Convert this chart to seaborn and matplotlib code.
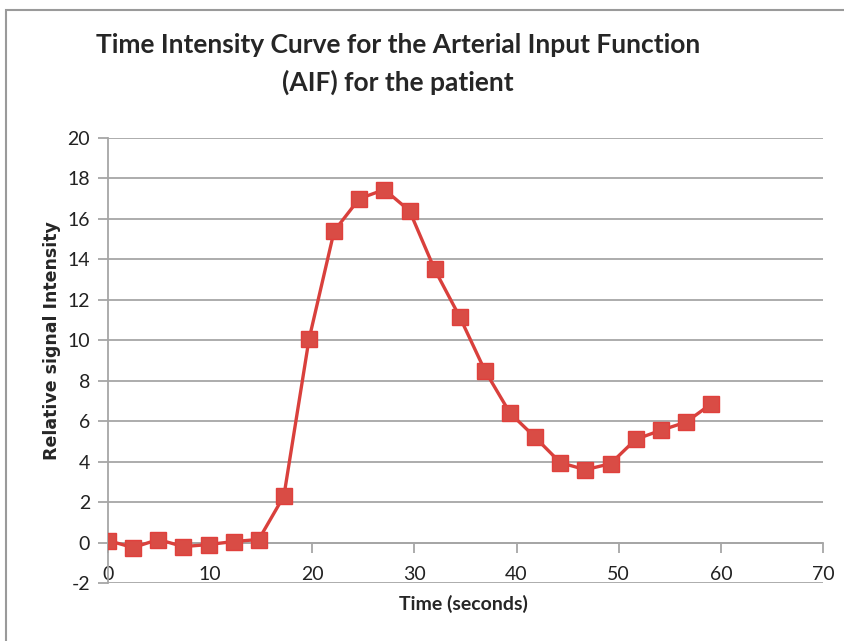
import matplotlib
matplotlib.use("Agg")
import matplotlib.pyplot as plt
import seaborn as sns
import pandas as pd
from matplotlib.patches import Rectangle

time_s = [0.0, 2.46, 4.92, 7.38, 9.84, 12.3, 14.76, 17.22, 19.68, 22.14, 24.6, 27.06,
          29.52, 31.98, 34.44, 36.9, 39.36, 41.82, 44.28, 46.74, 49.2, 51.66, 54.12, 56.58, 59.04]
intensity = [0.1, -0.25, 0.15, -0.2, -0.1, 0.05, 0.15, 2.3, 10.05, 15.4, 17.0, 17.45,
             16.4, 13.5, 11.15, 8.5, 6.4, 5.2, 3.95, 3.6, 3.9, 5.1, 5.55, 5.95, 6.85]
x_ticks = [0, 10, 20, 30, 40, 50, 60, 70]
y_ticks = [-2, 0, 2, 4, 6, 8, 10, 12, 14, 16, 18, 20]

df = pd.DataFrame({"Time": time_s, "Intensity": intensity})

sns.set_style("white")
plt.rcParams["font.family"] = ["Lato", "DejaVu Sans"]

fig = plt.figure(figsize=(8.45, 6.41), dpi=100)
ax = fig.add_axes([0.1278, 0.0905, 0.974 - 0.1278, 0.7847 - 0.0905])

grid_c = "#A6A6A6"
for yv in y_ticks:
    ax.axhline(yv, color=grid_c, lw=1.3, zorder=0)

sns.lineplot(data=df, x="Time", y="Intensity", ax=ax, color="#D9403C", lw=2.4,
             marker="s", markersize=12, markerfacecolor="#D94C45",
             markeredgecolor="#E0403C", markeredgewidth=1.0, zorder=3)

ax.spines["bottom"].set_position(("data", 0))
ax.spines["bottom"].set_color(grid_c)
ax.spines["bottom"].set_linewidth(1.3)
ax.spines["left"].set_color(grid_c)
ax.spines["left"].set_linewidth(1.3)
ax.spines["top"].set_visible(False)
ax.spines["right"].set_visible(False)

ax.set_xlim(0, 70)
ax.set_ylim(-2, 20)
ax.set_xticks(x_ticks)
ax.set_yticks(y_ticks)
ax.set_xticklabels([str(v) for v in x_ticks])
ax.set_yticklabels([str(v) for v in y_ticks])
ax.tick_params(axis="x", direction="out", length=7, width=1.3, color=grid_c, pad=10,
               bottom=True, labelsize=14, labelcolor="#222222")
ax.tick_params(axis="y", direction="out", length=7, width=1.3, color=grid_c, pad=6,
               left=True, labelsize=14, labelcolor="#222222")
ax.set_xlabel("")
ax.set_ylabel("")
ax.set_facecolor("white")

fig.text(0.549, 0.058, "Time (seconds)", ha="center", va="center", fontsize=14,
         fontweight="bold")
fig.text(0.062, 0.468, "Relative signal Intensity", ha="center", va="center",
         rotation=90, fontsize=12.5, fontweight="bold", family="DejaVu Sans")
fig.text(0.471, 0.930, "Time Intensity Curve for the Arterial Input Function",
         ha="center", va="center", fontsize=19, fontweight="bold")
fig.text(0.471, 0.872, "(AIF) for the patient", ha="center", va="center",
         fontsize=19, fontweight="bold")

fig.patches.append(Rectangle((0.007, -0.05), 1.2, 1.034, transform=fig.transFigure,
                             fill=False, edgecolor="#9A9A9A", lw=1.5))

fig.savefig("out.png", dpi=100)
